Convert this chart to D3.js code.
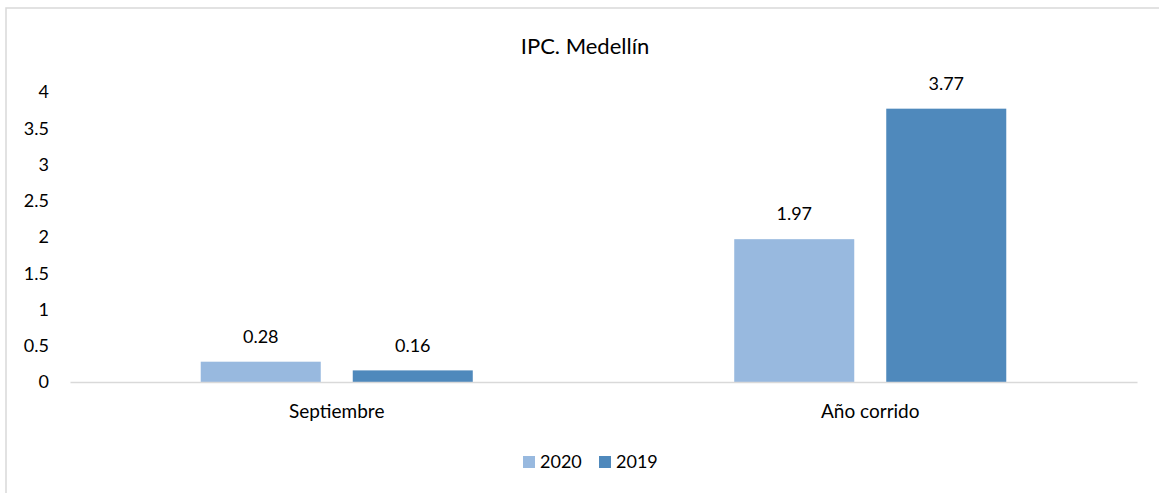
<!DOCTYPE html>
<html>
<head>
<meta charset="utf-8">
<script src="https://cdn.jsdelivr.net/npm/d3@7"></script>
<style>
  body { margin: 0; background: #fff; }
  text { font-family: Lato, "Open Sans", sans-serif; fill: #000; }
</style>
</head>
<body>
<svg id="chart" width="1159" height="493"></svg>
<script>
// data
const categories = ['Septiembre', 'Año corrido'];
const seriesNames = ['2020', '2019'];
const values2020 = [0.28, 1.97];
const values2019 = [0.16, 3.77];
const yTicks = [0, 0.5, 1, 1.5, 2, 2.5, 3, 3.5, 4];
const title = 'IPC. Medellín';

const color = { '2020': '#98b9df', '2019': '#4f89bc' };

const svg = d3.select('#chart');
const plot = { left: 70, right: 1137, top: 92, bottom: 382 };

// rows for grouped bars
const rows = categories.map((c, i) => ({
    cat: c,
    vals: [
        { key: '2020', v: values2020[i] },
        { key: '2019', v: values2019[i] }
    ]
}));

// outer frame
svg.append('rect')
    .attr('x', 6).attr('y', 8)
    .attr('width', 1170).attr('height', 500)
    .attr('fill', 'none')
    .attr('stroke', '#d9d9d9')
    .attr('stroke-width', 1.5);

// scales
const x0 = d3.scaleBand()
    .domain(categories)
    .range([plot.left, plot.right])
    .padding(0);
const x1 = d3.scaleBand()
    .domain(seriesNames)
    .range([0, x0.bandwidth()])
    .paddingInner(32 / 152)
    .paddingOuter(0.86);
const yScale = d3.scaleLinear()
    .domain([0, 4])
    .range([plot.bottom, plot.top]);

// title
svg.append('text')
    .attr('x', 585).attr('y', 46)
    .attr('dy', '0.35em')
    .attr('text-anchor', 'middle')
    .attr('font-size', '22px')
    .text(title);

// y axis (labels only)
const yAxis = d3.axisLeft(yScale)
    .tickValues(yTicks)
    .tickFormat(d3.format('~g'))
    .tickSize(0).tickPadding(0);
const yAxisGroup = svg.append('g')
    .attr('transform', `translate(${49}, 0)`)
    .call(yAxis);
yAxisGroup.select('.domain').remove();
yAxisGroup.selectAll('text')
    .attr('font-size', '18px')
    .attr('font-family', 'Lato, "Open Sans", sans-serif')
    .attr('fill', '#000');

// bars
const groups = svg.selectAll('.cat')
    .data(rows).join('g')
    .attr('class', 'cat')
    .attr('transform', d => `translate(${x0(d.cat)}, 0)`);

groups.selectAll('rect')
    .data(d => d.vals).join('rect')
    .attr('x', d => x1(d.key))
    .attr('width', x1.bandwidth())
    .attr('y', d => yScale(d.v))
    .attr('height', d => yScale(0) - yScale(d.v))
    .attr('fill', d => color[d.key]);

// value labels
groups.selectAll('.val')
    .data(d => d.vals).join('text')
    .attr('class', 'val')
    .attr('x', d => x1(d.key) + x1.bandwidth() / 2)
    .attr('y', d => yScale(d.v) - 25)
    .attr('dy', '0.35em')
    .attr('text-anchor', 'middle')
    .attr('font-size', '18px')
    .text(d => d.v);

// x axis
const xAxis = d3.axisBottom(x0).tickSize(0).tickPadding(0);
const xAxisGroup = svg.append('g')
    .attr('transform', `translate(0, ${plot.bottom})`)
    .call(xAxis);
xAxisGroup.select('.domain')
    .attr('stroke', '#d9d9d9')
    .attr('stroke-width', 1.5);
xAxisGroup.selectAll('text')
    .attr('y', 29)
    .attr('dy', '0.35em')
    .attr('font-size', '19px')
    .attr('font-family', 'Lato, "Open Sans", sans-serif')
    .attr('fill', '#000');

// legend
const legend = svg.selectAll('.legend')
    .data(seriesNames).join('g')
    .attr('class', 'legend')
    .attr('transform', (d, i) => `translate(${523 + i * 76}, 456)`);
legend.append('rect')
    .attr('width', 12).attr('height', 12)
    .attr('fill', d => color[d]);
legend.append('text')
    .attr('x', 17).attr('y', 6)
    .attr('dy', '0.35em')
    .attr('font-size', '18px')
    .text(d => d);
</script>
</body>
</html>
